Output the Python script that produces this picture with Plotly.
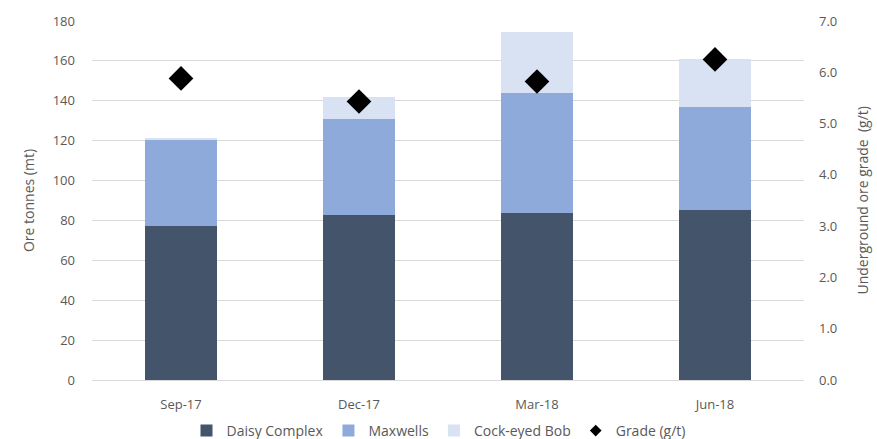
import plotly.graph_objects as go

quarters = ["Sep-17", "Dec-17", "Mar-18", "Jun-18"]
daisy = [77.0, 82.5, 83.6, 85.4]
maxwells = [43.7, 48.5, 60.5, 51.7]
cockeyed = [0.8, 10.8, 30.6, 24.0]
grade = [5.88, 5.43, 5.82, 6.25]

left_ticks = [0, 20, 40, 60, 80, 100, 120, 140, 160, 180]
right_ticks = [0, 1, 2, 3, 4, 5, 6, 7]

font_family = "Open Sans, Liberation Sans, Arial, sans-serif"
txt = "#595959"

fig = go.Figure()
fig.add_bar(x=quarters, y=daisy, name="Daisy Complex", marker_color="#44546A", marker_line_width=0)
fig.add_bar(x=quarters, y=maxwells, name="Maxwells", marker_color="#8EAADB", marker_line_width=0)
fig.add_bar(x=quarters, y=cockeyed, name="Cock-eyed Bob", marker_color="#D9E2F3", marker_line_width=0)
fig.add_scatter(x=quarters, y=grade, name="Grade (g/t)", mode="markers", yaxis="y2", showlegend=False,
                marker=dict(symbol="diamond", size=19, color="black"))
fig.add_scatter(x=[None], y=[None], name="Grade (g/t)", mode="markers", yaxis="y2",
                marker=dict(symbol="diamond", size=9, color="black"))

fig.update_layout(
    width=877, height=439,
    margin=dict(l=92, r=73, t=21, b=59, autoexpand=False),
    barmode="stack", bargap=0.6,
    plot_bgcolor="white", paper_bgcolor="white",
    font=dict(family=font_family, size=13, color=txt),
    xaxis=dict(showline=True, linecolor="#d9d9d9", ticks="", tickfont=dict(size=13, color=txt),
               ticklabelstandoff=12),
    yaxis=dict(range=[0, 180], tickvals=left_ticks, gridcolor="#d9d9d9", zeroline=False,
               tickfont=dict(size=13, color=txt), ticklabelstandoff=16,
               title=dict(text="Ore tonnes (mt)", font=dict(size=14, color=txt), standoff=14)),
    yaxis2=dict(range=[0, 7], tickvals=right_ticks, tickformat=".1f", overlaying="y", side="right",
                showgrid=False, zeroline=False, tickfont=dict(size=13, color=txt), ticklabelstandoff=14),
    annotations=[dict(text="Underground ore grade  (g/t)", xref="paper", yref="paper",
                      x=1.0815, y=0.5, xanchor="center", yanchor="middle", textangle=-90,
                      showarrow=False, font=dict(size=14, color=txt))],
    legend=dict(orientation="h", x=0.5, xanchor="center", xref="container",
                y=-0.142, yanchor="middle", yref="paper", bgcolor="rgba(0,0,0,0)",
                font=dict(size=14, color=txt), itemwidth=30, traceorder="normal"),
)

fig.write_html("out.html")
